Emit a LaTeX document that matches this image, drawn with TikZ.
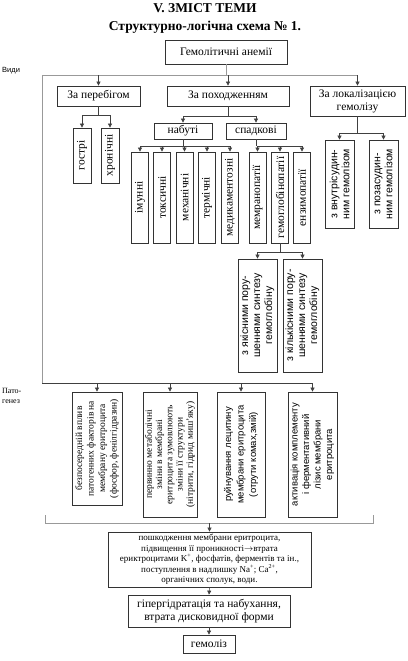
\documentclass[tikz,border=0pt]{standalone}
\usepackage{fontspec}
\setmainfont{Liberation Serif}
\setsansfont{Liberation Sans}
\usetikzlibrary{arrows.meta}
\newcommand{\cellfont}{\fontsize{11.5}{13}\selectfont}
\newcommand{\headfont}{\bfseries\fontsize{13.5}{15}\selectfont}
\tikzset{
  cell/.style={draw=black!80, line width=0.75pt, inner sep=0pt,
    align=center, font=\cellfont},
  vcell/.style={cell, rotate=90},
  link/.style={line width=0.6pt, black!75},
  feed/.style={link, -{Triangle[length=4pt,width=4pt]}},
  rail/.style={line width=1pt, black!40},
  tag/.style={anchor=west, align=left, inner sep=0pt}
}

\begin{document}
\begin{tikzpicture}[x=1pt,y=-1pt]

  \def\W{407}
  \def\H{661}
  \path[use as bounding box] (0,0) rectangle (\W,\H);

  % heading<<<
  \node[font=\headfont] (head) at (205,8) {V. ЗМІСТ ТЕМИ};
  \node[font=\headfont] (subhead) at (205,27) {Структурно-логічна схема № 1.};
  \node[tag, font=\sffamily\fontsize{7.5}{8.5}\selectfont] (kinds) at (2,71) {Види};
  \node[tag, font=\fontsize{8}{10}\selectfont] (patho) at (2,396) {Пато-\\генез};
  % >>>

  % kinds<<<
  \node[cell, minimum width=122, minimum height=24] (anemia) at (226,52)
    {Гемолітичні анемії};

  \node[cell, minimum width=83, minimum height=20] (kurs) at (98.5,96)
    {За перебігом};
  \node[cell, minimum width=122, minimum height=20] (origin) at (228,96)
    {За походженням};
  \node[cell, minimum width=95, minimum height=30] (loc) at (357.5,101)
    {За локалізацією\\гемолізу};

  \node[vcell, minimum width=55, minimum height=18] (acute) at (82,155.5) {гострі};
  \node[vcell, minimum width=55, minimum height=18] (chronic) at (110,155.5) {хронічні};

  \node[cell, minimum width=58, minimum height=16] (gained) at (183,131) {набуті};
  \node[cell, minimum width=60, minimum height=16] (inherited) at (256,131) {спадкові};

  \foreach \n/\x/\t in {immune/140/імунні, toxic/162/токсичні,
      mech/184.5/механічні, thermal/207/термічні, drug/230/медикаментозні,
      membr/257.5/мемранопатії, hgb/280/гемоглобінопатії, enzym/302/ензимопатії}{
    \node[vcell, minimum width=91, minimum height=17] (\n) at (\x,197.5) {\t};
  }

  \node[vcell, font=\sffamily\fontsize{10.5}{12}\selectfont,
        minimum width=88, minimum height=29] (intra) at (339.5,184)
    {з внутрісудин-\\ним гемолізом};
  \node[vcell, font=\sffamily\fontsize{10.5}{12}\selectfont,
        minimum width=88, minimum height=29] (extra) at (383.5,184)
    {з позасудин-\\ним гемолізом};

  \node[vcell, font=\sffamily\fontsize{10.5}{12}\selectfont,
        minimum width=113, minimum height=39] (qual) at (257.5,315.5)
    {з якісними пору-\\шеннями синтезу\\гемоглобіну};
  \node[vcell, font=\sffamily\fontsize{10.5}{12}\selectfont,
        minimum width=113, minimum height=39] (quant) at (302.5,315.5)
    {з кількісними пору-\\шеннями синтезу\\гемоглобіну};
  % >>>

  % kinds links<<<
  \coordinate (top) at (42,75);
  \coordinate (base) at (42,383);
  \draw[rail] (anemia.south) -- (anemia.south |- top);
  \draw[rail] (loc.north |- top) -- (top) -- (base);
  \foreach \b in {kurs,origin,loc}
    \draw[feed] (\b.north |- top) -- (\b.north);

  \draw[link] (kurs.south) -- ++(0,9) coordinate (kj);
  \draw[link] (acute.east |- kj) -- (chronic.east |- kj);
  \foreach \b in {acute,chronic}
    \draw[feed] (\b.east |- kj) -- (\b.east);

  \draw[link] (origin.south) -- ++(0,10) coordinate (oj);
  \draw[link] (gained.north |- oj) -- (inherited.north |- oj);
  \foreach \b in {gained,inherited}
    \draw[feed] (\b.north |- oj) -- (\b.north);

  \draw[link] (gained.south) -- ++(0,7) coordinate (gj);
  \draw[link] (immune.east |- gj) -- (drug.east |- gj);
  \foreach \b in {immune,toxic,mech,thermal,drug}
    \draw[feed] (\b.east |- gj) -- (\b.east);

  \draw[link] (inherited.south) -- ++(0,7) coordinate (ij);
  \draw[link] (membr.east |- ij) -- (enzym.east |- ij);
  \foreach \b in {membr,hgb,enzym}
    \draw[feed] (\b.east |- ij) -- (\b.east);

  \draw[link] (hgb.west) -- ++(0,9) coordinate (hj);
  \draw[link] (qual.east |- hj) -- (quant.east |- hj);
  \foreach \b in {qual,quant}
    \draw[feed] (\b.east |- hj) -- (\b.east);

  \draw[link] (loc.south) -- ++(0,17) coordinate (lj);
  \draw[link] (intra.east |- lj) -- (extra.east |- lj);
  \foreach \b in {intra,extra}
    \draw[feed] (\b.east |- lj) -- (\b.east);
  % >>>

  % pathogenesis<<<
  \node[vcell, font=\fontsize{9.5}{11.5}\selectfont,
        minimum width=113, minimum height=50] (p1) at (97,448.5)
    {безпосередній вплив\\патогенних факторів на\\мембрану еритроцита\\(фосфор, фенілгідразин)};
  \node[vcell, font=\fontsize{9.5}{10.2}\selectfont,
        minimum width=125, minimum height=54] (p2) at (170,454.5)
    {первинно метаболічні\\зміни в мембрані\\еритроцита зумовлюють\\зміни її структури\\(нітрити, гідрид миш'яку)};
  \node[vcell, font=\sffamily\fontsize{9.5}{12.5}\selectfont,
        minimum width=125, minimum height=48] (p3) at (241,454.5)
    {руйнування лецитину\\мембрани еритроцита\\(отрути комах,змій)};
  \node[vcell, font=\sffamily\fontsize{9.5}{11.5}\selectfont,
        minimum width=125, minimum height=49] (p4) at (312.5,454.5)
    {активація комплементу\\і ферментативний\\лізис мембрани\\еритроцита};

  \draw[link] (base) -- (p4.east |- base);
  \foreach \b in {p1,p2,p3,p4}
    \draw[feed] (\b.east |- base) -- (\b.east);
  % >>>

  % result<<<
  \node[cell, font=\fontsize{9}{10.5}\selectfont,
        minimum width=203, minimum height=55] (damage) at (209.5,559.5)
    {пошкодження мембрани еритроцита,\\
     підвищення її проникності$\rightarrow$втрата\\
     ериктроцитами K\textsuperscript{+}, фосфатів, ферментів та ін.,\\
     поступлення в надлишку Na\textsuperscript{+}; Ca\textsuperscript{2+},\\
     органічних сполук, води.};
  \node[cell, minimum width=162, minimum height=32] (hyper) at (209,611)
    {гіпергідратація та набухання,\\втрата дисковидної форми};
  \node[cell, minimum width=52, minimum height=18] (lysis) at (209,644) {гемоліз};

  \coordinate (sumL) at (45,523);
  \coordinate (sumR) at (373,523);
  \draw[rail] (sumL) ++(0,-8) -- (sumL) -- (sumR) -- ++(0,-8);
  \draw[feed] (damage.north |- sumL) -- (damage.north);
  \draw[feed] (damage.south) -- (hyper.north);
  \draw[feed] (hyper.south) -- (lysis.north);
  % >>>

\end{tikzpicture}
\end{document}
